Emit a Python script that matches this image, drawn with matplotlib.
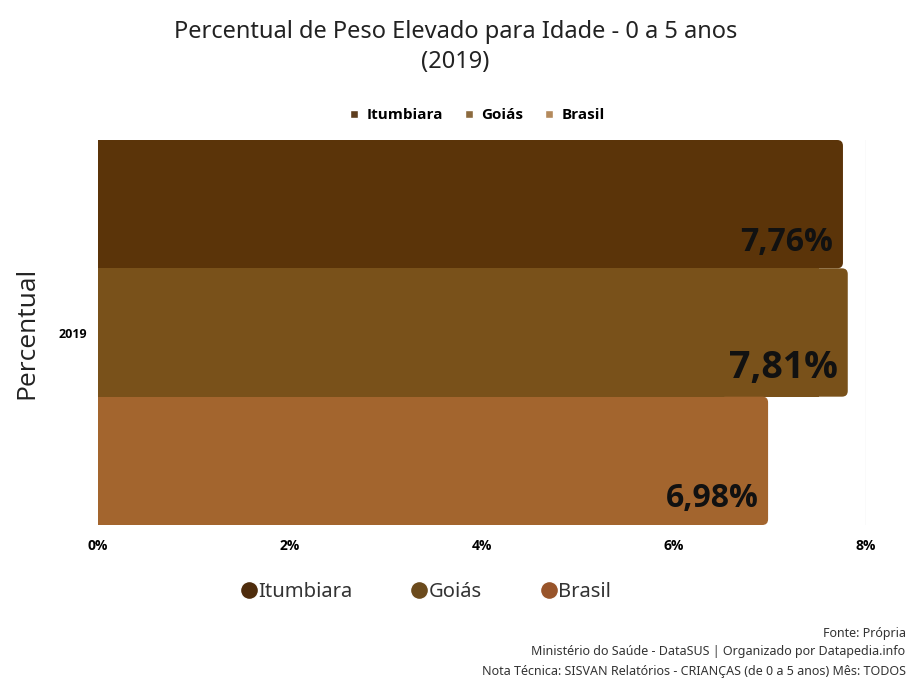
import matplotlib.pyplot as plt
import numpy as np
from matplotlib.lines import Line2D
from matplotlib.patches import FancyBboxPatch

# Peso elevado para idade, 0 a 5 anos (2019)
locais = ['Itumbiara', 'Goiás', 'Brasil']
valores = [7.76, 7.81, 6.98]
rotulos = ['7,76%', '7,81%', '6,98%']
cores = ['#5b3409', '#79511a', '#a3652e']
cores_leg_topo = ['#5e3d1e', '#8c6a3e', '#b48a5c']
cores_leg_base = ['#4e2c0c', '#6b4a1c', '#98542a']
ano = '2019'
xticks = [0, 2, 4, 6, 8]
xtick_labels = ['0%', '2%', '4%', '6%', '8%']

plt.rcParams['font.family'] = ['Noto Sans', 'DejaVu Sans']
negrito = ['Open Sans', 'DejaVu Sans']

fig = plt.figure(figsize=(9.11, 6.82), dpi=100)
ax = fig.add_axes([98/911, 157/682, 768/911, 385/682])

h = 1/3
pos = [h, 0, -h]
p = 0.06     # raio do canto, em unidades de x
a = 0.25     # razão y/x para cantos circulares
for y, v, c, lab in zip(pos, valores, cores, rotulos):
    # barra com cantos direitos arredondados
    ax.barh(y, v - 0.3, height=h, left=0, color=c, zorder=2)
    box = FancyBboxPatch((v - 0.5 + p, y - h/2 + p*a), 0.5 - 2*p, h - 2*p*a,
                         boxstyle=f'round,pad={p},rounding_size={p}',
                         mutation_aspect=a, facecolor=c, edgecolor='none', zorder=2)
    ax.add_patch(box)
    fs = 27 if v == max(valores) else 23
    ax.text(v - 0.1, y - h/2 + 0.025, lab, ha='right', va='bottom',
            fontsize=fs, fontweight='bold', color='#111111',
            family=negrito, zorder=3)

ax.set_xlim(0, 8)
ax.set_ylim(-0.5, 0.5)
ax.set_xticks(xticks)
ax.set_xticklabels(xtick_labels, fontsize=10, fontweight='bold', family=negrito)
ax.set_yticks([0])
ax.set_yticklabels([ano], fontsize=9, fontweight='bold', family=negrito)
ax.tick_params(length=0, pad=10)
ax.tick_params(axis='y', pad=8)
ax.grid(axis='x', color='#e6e6e6', linewidth=1, zorder=0)
for s in ax.spines.values():
    s.set_visible(False)
ax.set_ylabel('Percentual', fontsize=19, color='#222222', labelpad=14,
              family=['Open Sans', 'DejaVu Sans'])

fig.text(0.5, 0.953, 'Percentual de Peso Elevado para Idade - 0 a 5 anos',
         ha='center', va='center', fontsize=17, color='#222222')
fig.text(0.5, 0.909, '(2019)', ha='center', va='center', fontsize=17, color='#222222')

# legenda superior
h_topo = [Line2D([0], [0], marker='s', color='w', markerfacecolor=c, markersize=6, label=l)
          for c, l in zip(cores_leg_topo, locais)]
fig.legend(handles=h_topo, loc='center', bbox_to_anchor=(0.524, 0.831), ncol=3,
           frameon=False, handlelength=0.6, handletextpad=0.5, columnspacing=1.4,
           prop={'family': negrito, 'weight': 'bold', 'size': 11})

# legenda inferior
h_base = [Line2D([0], [0], marker='o', color='w', markerfacecolor=c, markersize=13, label=l)
          for c, l in zip(cores_leg_base, locais)]
fig.legend(handles=h_base, loc='center', bbox_to_anchor=(0.468, 0.132), ncol=3,
           frameon=False, handlelength=0.7, handletextpad=0.1, columnspacing=3.0,
           prop={'size': 14.5}, labelcolor='#333333')

fig.text(0.994, 0.071, 'Fonte: Própria', ha='right', va='center', fontsize=9, color='#333333')
fig.text(0.994, 0.044, 'Ministério do Saúde - DataSUS | Organizado por Datapedia.info',
         ha='right', va='center', fontsize=9, color='#333333')
fig.text(0.994, 0.016, 'Nota Técnica: SISVAN Relatórios - CRIANÇAS (de 0 a 5 anos) Mês: TODOS',
         ha='right', va='center', fontsize=9, color='#333333')

fig.savefig('out.png', dpi=100, facecolor='white')
